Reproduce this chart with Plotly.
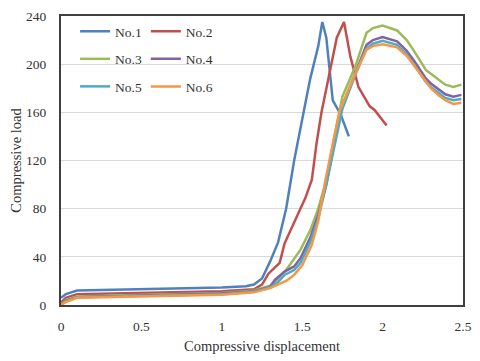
import plotly.graph_objects as go

# 试样名称和颜色
names = ["No.1", "No.2", "No.3", "No.4", "No.5", "No.6"]
colors = ["#4F81BD", "#C0504D", "#9BBB59", "#8064A2", "#4BACC6", "#F79646"]

# 各试样的位移-载荷数据
x1 = [0, 0.03, 0.1, 0.5, 1.0, 1.15, 1.2, 1.25, 1.3, 1.35, 1.4, 1.45, 1.5, 1.55, 1.6, 1.625, 1.65, 1.67, 1.69, 1.74, 1.79]
y1 = [6, 9, 12, 13, 14.5, 15.5, 17, 22, 36, 52, 80, 120, 155, 188, 215, 235, 222, 198, 170, 158, 140]

x2 = [0, 0.03, 0.1, 0.5, 1.0, 1.2, 1.25, 1.29, 1.36, 1.39, 1.45, 1.52, 1.56, 1.59, 1.62, 1.68, 1.715, 1.76, 1.78, 1.8, 1.85, 1.92, 1.95, 2.025]
y2 = [2, 6, 9, 10, 11.5, 13, 17, 26, 35, 51, 68, 89, 104, 135, 160, 200, 222, 235, 220, 206, 181, 165, 162, 149]

x3 = [0, 0.03, 0.1, 0.5, 1.0, 1.2, 1.3, 1.35, 1.4, 1.49, 1.55, 1.6, 1.65, 1.7, 1.75, 1.83, 1.9, 1.94, 2.0, 2.09, 2.15, 2.2, 2.27, 2.3, 2.35, 2.39, 2.44, 2.49]
y3 = [0, 4, 7, 8.5, 10, 12, 16, 22, 29, 46, 62, 80, 104, 140, 173, 198, 226, 230, 232, 228, 220, 210, 195, 192, 187, 183, 181, 183]

x4 = [0, 0.03, 0.1, 0.5, 1.0, 1.2, 1.3, 1.33, 1.39, 1.45, 1.49, 1.55, 1.6, 1.65, 1.7, 1.75, 1.83, 1.9, 1.94, 2.0, 2.09, 2.15, 2.2, 2.27, 2.3, 2.35, 2.39, 2.44, 2.49]
y4 = [0, 3.5, 6.5, 8, 9.5, 11.5, 15, 20.8, 27.7, 32, 39, 56, 75, 100, 135, 165, 193, 216, 220, 222.5, 219, 211, 202, 188, 184, 179, 175, 173, 174.5]

x5 = [0, 0.03, 0.1, 0.5, 1.0, 1.2, 1.3, 1.35, 1.39, 1.45, 1.49, 1.55, 1.6, 1.65, 1.7, 1.75, 1.83, 1.9, 1.94, 2.0, 2.09, 2.15, 2.2, 2.27, 2.3, 2.35, 2.39, 2.44, 2.49]
y5 = [0, 3, 6.5, 7.5, 9, 11, 14.5, 19, 25, 29, 35, 52, 72, 100, 132, 163, 191, 213, 217, 219.5, 216, 208, 199, 185, 181, 176, 172, 170, 171]

x6 = [0, 0.03, 0.1, 0.5, 1.0, 1.2, 1.3, 1.4, 1.45, 1.5, 1.56, 1.6, 1.645, 1.7, 1.735, 1.83, 1.9, 1.94, 2.0, 2.09, 2.15, 2.2, 2.27, 2.3, 2.35, 2.39, 2.44, 2.49]
y6 = [0, 2.5, 6, 7, 8.5, 10.5, 14, 20, 25, 33, 50, 70, 104, 140, 162, 192, 212, 215, 216.5, 214, 207, 198, 185, 180, 174, 170, 167, 168]

xs = [x1, x2, x3, x4, x5, x6]
ys = [y1, y2, y3, y4, y5, y6]

# 坐标轴刻度
x_ticks = [0, 0.5, 1, 1.5, 2, 2.5]
x_tick_labels = ["0", "0.5", "1", "1.5", "2", "2.5"]
y_ticks = [0, 40, 80, 120, 160, 200, 240]

fig = go.Figure()
for i in range(6):
    fig.add_trace(go.Scatter(
        x=xs[i], y=ys[i], mode="lines", name=names[i],
        line=dict(color=colors[i], width=2.5),
        legendgroup=names[i],
        legend="legend" if i % 2 == 0 else "legend2",
    ))

font_family = "Liberation Serif, Times New Roman, serif"
legend_style = dict(
    bgcolor="rgba(0,0,0,0)", borderwidth=0,
    font=dict(family=font_family, size=13.5, color="#333"),
    tracegroupgap=7, itemwidth=30, yanchor="top", y=1.0,
)

# 页面body有8px默认边距，图尺寸相应缩小
fig.update_layout(
    width=472, height=353,
    margin=dict(l=53, r=17, t=8, b=56, autoexpand=False),
    paper_bgcolor="white", plot_bgcolor="white",
    font=dict(family=font_family, size=13.5, color="#333"),
    legend=dict(x=0.035, **legend_style),
    legend2=dict(x=0.211, **legend_style),
)
fig.update_xaxes(
    range=[0, 2.5], tickvals=x_ticks, ticktext=x_tick_labels,
    showgrid=False, zeroline=False, showline=True, linecolor="#404040",
    linewidth=2, mirror=True, ticks="", ticklabelstandoff=8, automargin=False,
    title=dict(text="Compressive displacement", font=dict(size=14.5), standoff=8),
)
fig.update_yaxes(
    range=[0, 240], tickvals=y_ticks,
    showgrid=True, gridcolor="#D9D9D9", gridwidth=1,
    zeroline=False, showline=True, linecolor="#404040",
    linewidth=2, mirror=True, ticks="", ticklabelstandoff=10, automargin=False,
    title=dict(text="Compressive load", font=dict(size=14.5), standoff=5),
)

fig.write_html("out.html")
